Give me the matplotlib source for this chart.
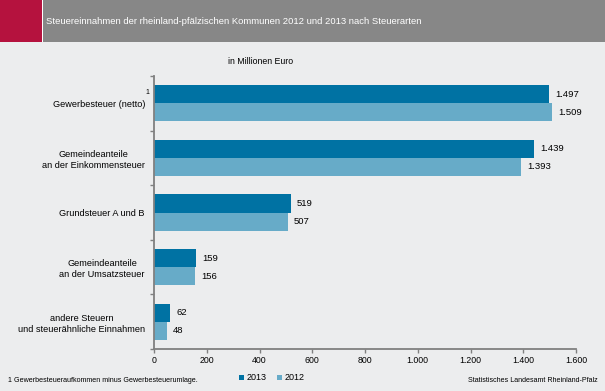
import numpy as np
import matplotlib
matplotlib.use("Agg")
import matplotlib.pyplot as plt
from matplotlib.patches import Rectangle

plt.rcParams['font.family'] = ['Liberation Sans', 'DejaVu Sans']

# Data (Mio. Euro)
categories = ["Gewerbesteuer (netto)",
              "Gemeindeanteile\nan der Einkommensteuer",
              "Grundsteuer A und B",
              "Gemeindeanteile\nan der Umsatzsteuer",
              "andere Steuern\nund steuerähnliche Einnahmen"]
values_2013 = [1497, 1439, 519, 159, 62]
values_2012 = [1509, 1393, 507, 156, 48]
xticks = [0, 200, 400, 600, 800, 1000, 1200, 1400, 1600]

c2013 = "#0072a3"
c2012 = "#67abc8"
bg = "#ecedee"

def fmt(v):
    return f"{v:,}".replace(",", ".")

fig = plt.figure(figsize=(6.05, 3.91), dpi=100)
fig.patch.set_facecolor(bg)

# header band
fig.patches.append(Rectangle((0, 1 - 42/391), 1, 42/391, transform=fig.transFigure,
                             facecolor="#878787", edgecolor="none", zorder=0))
fig.patches.append(Rectangle((0, 1 - 42/391), 42/605, 42/391, transform=fig.transFigure,
                             facecolor="#b5123e", edgecolor="none", zorder=1))
fig.patches.append(Rectangle((42/605, 1 - 42/391), 1.2/605, 42/391, transform=fig.transFigure,
                             facecolor="white", edgecolor="none", zorder=2))
fig.text(46/605, 1 - 21/391, "Steuereinnahmen der rheinland-pfälzischen Kommunen 2012 und 2013 nach Steuerarten",
         color="white", fontsize=6.8, va="center", ha="left")
fig.text(261/605, 1 - 61/391, "in Millionen Euro", fontsize=6.3, ha="center", va="center")

ax = fig.add_axes([154/605, 1 - 349/391, (576 - 154)/605, (349 - 76)/391])
ax.set_facecolor("none")

n = len(categories)
y = np.arange(n)
h = 0.33
ax.barh(y - h/2, values_2013, height=h, color=c2013, label="2013")
ax.barh(y + h/2, values_2012, height=h, color=c2012, label="2012")

for yi, v in zip(y, values_2013):
    ax.annotate(fmt(v), (v, yi - h/2), xytext=(4.5, 0), textcoords="offset points",
                va="center", ha="left", fontsize=6.8)
for yi, v in zip(y, values_2012):
    ax.annotate(fmt(v), (v, yi + h/2), xytext=(4.5, 0), textcoords="offset points",
                va="center", ha="left", fontsize=6.8)

ax.set_ylim(n - 0.5, -0.5)
ax.set_xlim(0, 1600)
ax.set_xticks(xticks)
ax.set_xticklabels([fmt(t) for t in xticks], fontsize=6.3)
ax.set_yticks(y)
ax.set_yticklabels(categories, fontsize=6.6, ha="right", multialignment="center",
                   linespacing=1.3)
ax.tick_params(axis="y", length=0, pad=6.5)
ax.set_yticks(np.arange(n + 1) - 0.5, minor=True)
ax.tick_params(axis="y", which="minor", length=3, color="#808080", width=1)
ax.tick_params(axis="x", length=3, color="#808080", width=1, pad=2)

for s in ["top", "right"]:
    ax.spines[s].set_visible(False)
for s in ["left", "bottom"]:
    ax.spines[s].set_color("#808080")
    ax.spines[s].set_linewidth(1.3)

# superscript footnote marker
ax.annotate("1", (0, 0), xytext=(-5, 7.5), textcoords="offset points",
            fontsize=5, ha="center", va="center")

leg = fig.legend(loc="center", bbox_to_anchor=(272/605, 1 - 378/391), ncol=2, frameon=False,
                 fontsize=6.5, handlelength=0.5, handleheight=0.5, handletextpad=0.3,
                 columnspacing=1.2)

fig.text(8/605, 1 - 380/391, "1 Gewerbesteueraufkommen minus Gewerbesteuerumlage.",
         fontsize=5.1, ha="left", va="center")
fig.text(598/605, 1 - 380/391, "Statistisches Landesamt Rheinland-Pfalz",
         fontsize=5.1, ha="right", va="center")

fig.savefig("out.png", dpi=100, facecolor=bg)
